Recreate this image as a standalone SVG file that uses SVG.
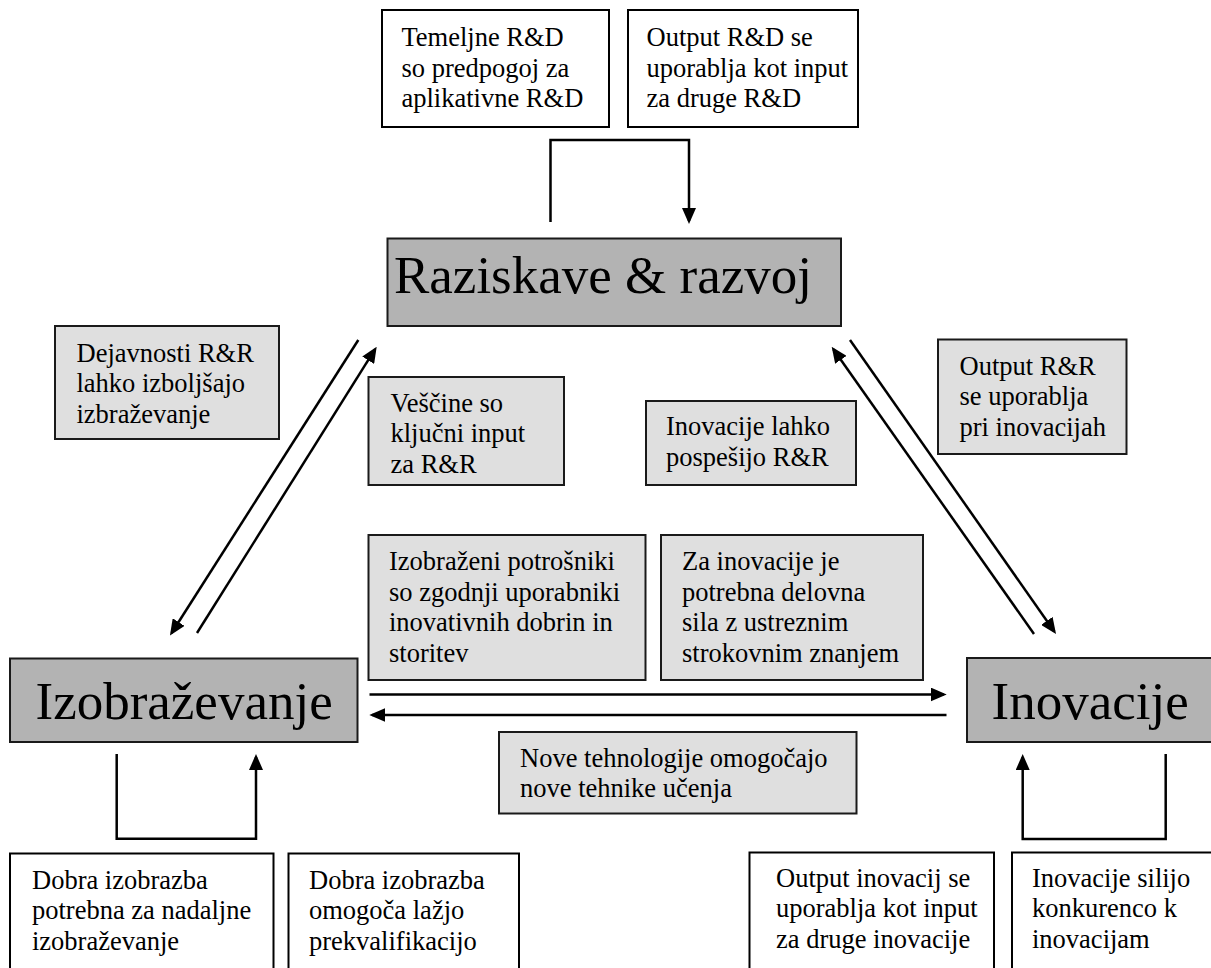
<svg xmlns="http://www.w3.org/2000/svg" width="1211" height="968" viewBox="0 0 1211 968">
  <style>
    text { font-family: "Liberation Serif", "Times New Roman", serif; fill: #000; }
    .small { font-size: 26.5px; }
    .big { font-size: 53px; }
    .plain { fill: #ffffff; stroke: #000; stroke-width: 2; }
    .note { fill: #dfdfdf; stroke: #1a1a1a; stroke-width: 2; }
    .main { fill: #b3b3b3; stroke: #1a1a1a; stroke-width: 2; }
    .wire { fill: none; stroke: #000; stroke-width: 2.5; }
  </style>
  <defs>
    <marker id="head" viewBox="0 0 16 14" refX="13" refY="7" markerWidth="16" markerHeight="14" markerUnits="userSpaceOnUse" orient="auto">
      <path d="M0,0 L16,7 L0,14 z" fill="#000"/>
    </marker>
  </defs>

  <rect width="1211" height="968" fill="#ffffff"/>

  <!-- main nodes -->
  <g id="rd">
    <rect class="main" x="387.5" y="238.5" width="453.5" height="87.5"/>
    <text class="big" x="394" y="293">Raziskave &amp; razvoj</text>
  </g>
  <g id="education">
    <rect class="main" x="10" y="658.5" width="347.5" height="83.5"/>
    <text class="big" x="35.5" y="719">Izobraževanje</text>
  </g>
  <g id="innovation">
    <rect class="main" x="967" y="658" width="250" height="84"/>
    <text class="big" x="991.5" y="719">Inovacije</text>
  </g>

  <!-- feedback notes: top -->
  <g id="note-basic-rd">
    <rect class="plain" x="382" y="10" width="227" height="117"/>
    <text class="small" x="401.5" y="46"><tspan x="401.5">Temeljne R&amp;D</tspan><tspan x="401.5" dy="30.5">so predpogoj za</tspan><tspan x="401.5" dy="30.5">aplikativne R&amp;D</tspan></text>
  </g>
  <g id="note-rd-output">
    <rect class="plain" x="628" y="10" width="230" height="117"/>
    <text class="small" x="646.5" y="46"><tspan x="646.5">Output R&amp;D se</tspan><tspan x="646.5" dy="30.5">uporablja kot input</tspan><tspan x="646.5" dy="30.5">za druge R&amp;D</tspan></text>
  </g>

  <!-- relation notes -->
  <g id="note-rd-edu">
    <rect class="note" x="55" y="326" width="224" height="113"/>
    <text class="small" x="76.5" y="361.5"><tspan x="76.5">Dejavnosti R&amp;R</tspan><tspan x="76.5" dy="30.5">lahko izboljšajo</tspan><tspan x="76.5" dy="30.5">izbraževanje</tspan></text>
  </g>
  <g id="note-skills">
    <rect class="note" x="368.5" y="377" width="195.5" height="108"/>
    <text class="small" x="390.5" y="411.5"><tspan x="390.5">Veščine so</tspan><tspan x="390.5" dy="30.5">ključni input</tspan><tspan x="390.5" dy="30.5">za R&amp;R</tspan></text>
  </g>
  <g id="note-inn-rd">
    <rect class="note" x="646" y="401" width="210" height="84"/>
    <text class="small" x="666" y="435"><tspan x="666">Inovacije lahko</tspan><tspan x="666" dy="30.5">pospešijo R&amp;R</tspan></text>
  </g>
  <g id="note-rd-inn">
    <rect class="note" x="938" y="339.5" width="188.5" height="114.5"/>
    <text class="small" x="959.5" y="374.5"><tspan x="959.5">Output R&amp;R</tspan><tspan x="959.5" dy="30.5">se uporablja</tspan><tspan x="959.5" dy="30.5">pri inovacijah</tspan></text>
  </g>
  <g id="note-consumers">
    <rect class="note" x="368.5" y="535" width="277" height="145"/>
    <text class="small" x="389" y="570"><tspan x="389">Izobraženi potrošniki</tspan><tspan x="389" dy="30.5">so zgodnji uporabniki</tspan><tspan x="389" dy="30.5">inovativnih dobrin in</tspan><tspan x="389" dy="30.5">storitev</tspan></text>
  </g>
  <g id="note-workforce">
    <rect class="note" x="661" y="535" width="262" height="145"/>
    <text class="small" x="682" y="570"><tspan x="682">Za inovacije je</tspan><tspan x="682" dy="30.5">potrebna delovna</tspan><tspan x="682" dy="30.5">sila z ustreznim</tspan><tspan x="682" dy="30.5">strokovnim znanjem</tspan></text>
  </g>
  <g id="note-new-tech">
    <rect class="note" x="499" y="732" width="357.5" height="81.5"/>
    <text class="small" x="520" y="766.5"><tspan x="520">Nove tehnologije omogočajo</tspan><tspan x="520" dy="30.5">nove tehnike učenja</tspan></text>
  </g>

  <!-- feedback notes: bottom -->
  <g id="note-further-edu">
    <rect class="plain" x="10" y="853.5" width="263.5" height="125"/>
    <text class="small" x="32" y="888.5"><tspan x="32">Dobra izobrazba</tspan><tspan x="32" dy="30.5">potrebna za nadaljne</tspan><tspan x="32" dy="30.5">izobraževanje</tspan></text>
  </g>
  <g id="note-requalify">
    <rect class="plain" x="288.5" y="853.5" width="230.5" height="125"/>
    <text class="small" x="309" y="888.5"><tspan x="309">Dobra izobrazba</tspan><tspan x="309" dy="30.5">omogoča lažjo</tspan><tspan x="309" dy="30.5">prekvalifikacijo</tspan></text>
  </g>
  <g id="note-inn-output">
    <rect class="plain" x="749.5" y="852.5" width="244.5" height="126"/>
    <text class="small" x="776" y="886.5"><tspan x="776">Output inovacij se</tspan><tspan x="776" dy="30.5">uporablja kot input</tspan><tspan x="776" dy="30.5">za druge inovacije</tspan></text>
  </g>
  <g id="note-competition">
    <rect class="plain" x="1012" y="852.5" width="210" height="126"/>
    <text class="small" x="1032" y="886.5"><tspan x="1032">Inovacije silijo</tspan><tspan x="1032" dy="30.5">konkurenco k</tspan><tspan x="1032" dy="30.5">inovacijam</tspan></text>
  </g>

  <!-- connectors -->
  <g id="connectors" class="wire">
    <path class="wire" d="M550.5,222 V140 H689 V221" marker-end="url(#head)"/>
    <path class="wire" d="M358.3,340 L171.6,633" marker-end="url(#head)"/>
    <path class="wire" d="M197,633 L375.1,349.2" marker-end="url(#head)"/>
    <path class="wire" d="M1034,634 L833.4,349.2" marker-end="url(#head)"/>
    <path class="wire" d="M850,340 L1054.3,631.5" marker-end="url(#head)"/>
    <path class="wire" d="M369.5,694.5 H943.7" marker-end="url(#head)"/>
    <path class="wire" d="M946.5,715 H372.3" marker-end="url(#head)"/>
    <path class="wire" d="M116.7,754 V838.7 H256 V757" marker-end="url(#head)"/>
    <path class="wire" d="M1165.7,754 V839 H1022.7 V757" marker-end="url(#head)"/>
  </g>
</svg>
